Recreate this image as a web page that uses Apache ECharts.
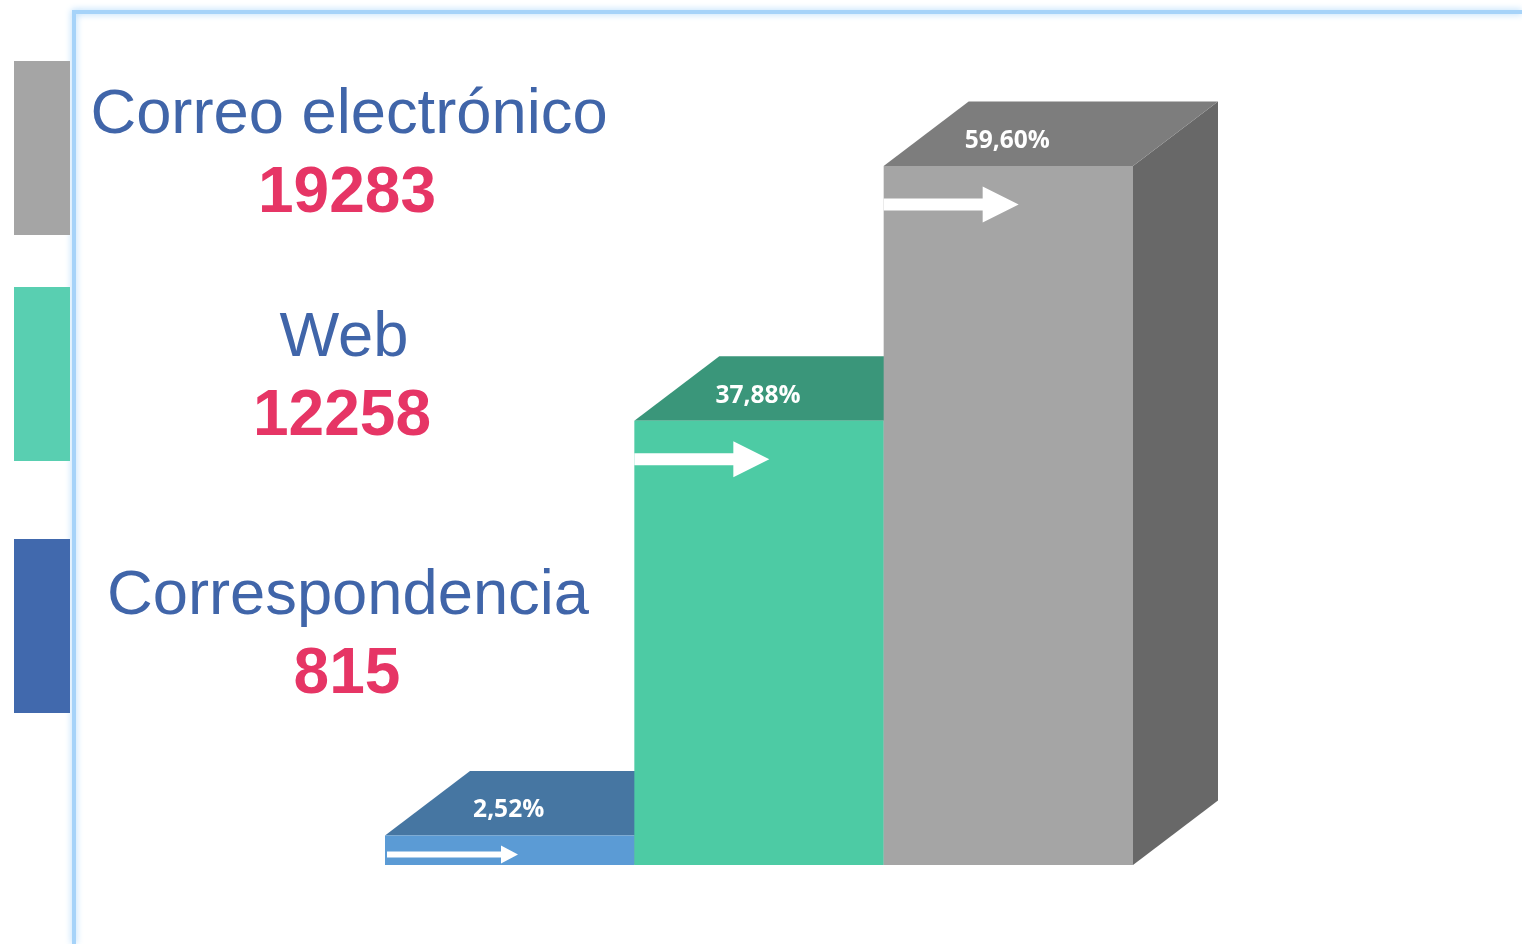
<!DOCTYPE html>
<html>
<head>
<meta charset="utf-8">
<title>Canales</title>
<style>
html, body { margin: 0; padding: 0; background: #fff; }
#main { width: 1522px; height: 944px; }
</style>
<script src="https://cdn.jsdelivr.net/npm/echarts@6/dist/echarts.min.js"></script>
</head>
<body>
<div id="main"></div>
<script>
// datos
var categories = ['Correspondencia', 'Web', 'Correo electrónico'];
var counts = [815, 12258, 19283];
var percents = [2.52, 37.88, 59.60];

var frontColors = ['#5b9bd5', '#4dcba4', '#a5a5a5'];
var topColors = ['#4676a2', '#3a967a', '#7d7d7d'];
var sideColors = ['#3f6a92', '#33856c', '#686868'];
var swatchColors = ['#4169ad', '#59cfb1', '#a5a5a5'];

var DEPTH_X = 85, DEPTH_Y = -64.5;

var chart = echarts.init(document.getElementById('main'), null, { renderer: 'canvas' });

function renderBar(params, api) {
    var i = params.dataIndex;
    var band = api.size([1, 0])[0];
    var top = api.coord([i, api.value(1)]);
    var base = api.coord([i, 0]);
    var x0 = top[0] - band / 2, x1 = top[0] + band / 2;
    var y0 = top[1], y1 = base[1];
    var small = y1 - y0 < 60;
    // flecha blanca
    var arrowY = small ? y0 + 19 : y0 + 38.5;
    var shaft = small ? 3 : 6;
    var head = small ? 9 : 18;
    var tip = x0 + (small ? 133 : 135);
    var headLen = small ? 17 : 36;
    var startX = small ? x0 + 2 : x0;
    return {
        type: 'group',
        children: [
            { type: 'polygon', shape: { points: [[x1, y0], [x1 + DEPTH_X, y0 + DEPTH_Y], [x1 + DEPTH_X, y1 + DEPTH_Y], [x1, y1]] }, style: { fill: sideColors[i] } },
            { type: 'polygon', shape: { points: [[x0, y0], [x0 + DEPTH_X, y0 + DEPTH_Y], [x1 + DEPTH_X, y0 + DEPTH_Y], [x1, y0]] }, style: { fill: topColors[i] } },
            { type: 'rect', shape: { x: x0, y: y0, width: band, height: y1 - y0 }, style: { fill: frontColors[i] } },
            { type: 'polygon', shape: { points: [
                [startX, arrowY - shaft], [tip - headLen, arrowY - shaft], [tip - headLen, arrowY - head], [tip, arrowY],
                [tip - headLen, arrowY + head], [tip - headLen, arrowY + shaft], [startX, arrowY + shaft]
            ] }, style: { fill: '#fff' } },
            { type: 'text', style: {
                text: api.value(1).toFixed(2).replace('.', ',') + '%',
                x: top[0] - 1, y: y0 - 25,
                fill: '#fff',
                font: '700 24.5px "Open Sans"',
                align: 'center', verticalAlign: 'middle'
            } }
        ]
    };
}

// marco, muestras y textos de la izquierda
var nameTopY = [565.5, 307.5, 84.5];
var nameX = [348, 344, 349];
var countX = [347, 342, 347];
var swatchY = [539, 287, 61];
var graphics = [{
    type: 'polyline', z: 1,
    shape: { points: [[74, 944], [74, 12], [1522, 12]] },
    style: { stroke: '#a6d3f9', lineWidth: 4, fill: null, shadowBlur: 7, shadowColor: '#a6d3f9' }
}];
categories.forEach(function (name, i) {
    graphics.push({ type: 'rect', z: 2, shape: { x: 14, y: swatchY[i], width: 56, height: 174 }, style: { fill: swatchColors[i] } });
    graphics.push({ type: 'text', z: 3, style: {
        text: name, x: nameX[i], y: nameTopY[i], fill: '#4065a9',
        font: '63.3px "Liberation Sans"', align: 'center', verticalAlign: 'top'
    } });
    graphics.push({ type: 'text', z: 3, style: {
        text: String(counts[i]), x: countX[i], y: nameTopY[i] + 77.5, fill: '#e63565',
        font: 'bold 64px "Liberation Sans"', align: 'center', verticalAlign: 'top'
    } });
});

var option = {
    animation: false,
    backgroundColor: '#fff',
    grid: { left: 385, right: 389, top: 166, bottom: 79 },
    xAxis: { type: 'category', data: categories, show: false },
    yAxis: { type: 'value', min: 0, max: 59.6, show: false },
    graphic: graphics,
    series: [{
        type: 'custom',
        renderItem: renderBar,
        clip: false,
        silent: true,
        data: percents.map(function (p, i) { return [i, p]; })
    }]
};
chart.setOption(option);
</script>
</body>
</html>
